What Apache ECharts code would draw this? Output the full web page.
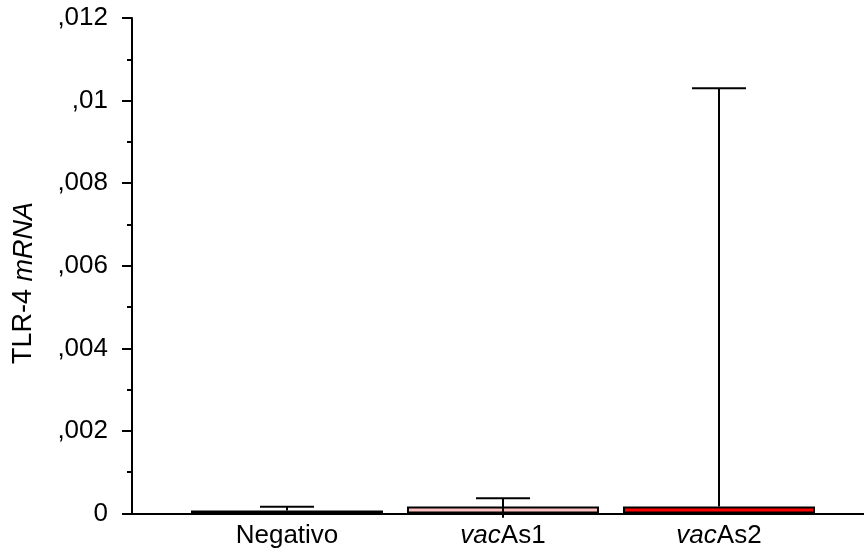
<!DOCTYPE html>
<html><head><meta charset="utf-8">
<script src="https://cdn.jsdelivr.net/npm/echarts@6/dist/echarts.min.js"></script>
<style>html,body{margin:0;padding:0;background:#fff}#c{width:864px;height:560px}</style>
</head><body><div id="c"></div>
<script>
const categories = ['Negativo', 'vacAs1', 'vacAs2'];
const categoryLabels = ['Negativo', '{i|vac}As1', '{i|vac}As2'];
const meanValues = [0.00007, 0.00017, 0.00017];
const errHigh = [0.000165, 0.00037, 0.0103];
const errLow = [null, -0.0001, null];
const barColors = ['#000000', '#FFC0C0', '#FF0000'];
const yTickLabels = ['0', ',002', ',004', ',006', ',008', ',01', ',012'];
const yMin = 0, yMax = 0.012, yStep = 0.002;

const FONT = 'Liberation Sans, Arial, sans-serif';
const chart = echarts.init(document.getElementById('c'), null, {renderer: 'canvas'});
const gTop = 18, gBottom = 46.5;
chart.setOption({
  animation: false,
  backgroundColor: '#fff',
  grid: [
    {left: 132, right: 0, top: gTop, bottom: gBottom},
    {left: 179, width: 648, top: gTop, bottom: gBottom}
  ],
  xAxis: [
    {gridIndex: 0, type: 'value', min: 0, max: 1,
     axisLine: {show: true, onZero: false, lineStyle: {color: '#000', width: 2}},
     axisTick: {show: false}, axisLabel: {show: false}, splitLine: {show: false}},
    {gridIndex: 1, type: 'category', data: categories,
     axisLine: {show: false}, axisTick: {show: false}, splitLine: {show: false},
     axisLabel: {
       margin: 9, color: '#000', fontFamily: FONT, fontSize: 26,
       formatter: (v, i) => categoryLabels[i],
       rich: {i: {fontStyle: 'italic', fontFamily: FONT, fontSize: 26, color: '#000'}}
     }}
  ],
  yAxis: [
    {gridIndex: 0, type: 'value', min: yMin, max: yMax, interval: yStep,
     axisLine: {show: true, lineStyle: {color: '#000', width: 2}},
     axisTick: {show: true, inside: false, length: 10, lineStyle: {color: '#000', width: 2}},
     minorTick: {show: true, splitNumber: 2, length: 5, lineStyle: {color: '#000', width: 2}},
     splitLine: {show: false},
     axisLabel: {margin: 24, color: '#000', fontFamily: FONT, fontSize: 26, padding: [6, 0, 0, 0],
       formatter: v => yTickLabels[Math.round((v - yMin) / yStep)]}},
    {gridIndex: 1, type: 'value', min: yMin, max: yMax, interval: yStep, show: false}
  ],
  graphic: [{
    type: 'text', x: 24, y: 283, rotation: Math.PI / 2,
    style: {
      text: 'TLR-4 {i|mRNA}', align: 'center', verticalAlign: 'middle',
      fill: '#000', font: '27px ' + FONT,
      rich: {i: {fontStyle: 'italic', fontSize: 27, fontFamily: FONT, fill: '#000'}}
    }
  }],
  series: [
    {type: 'bar', xAxisIndex: 1, yAxisIndex: 1, barWidth: 192,
     data: meanValues.map((v, i) => ({value: v, itemStyle: {color: barColors[i]}})),
     itemStyle: {borderColor: '#000', borderWidth: 2}, z: 2},
    {type: 'custom', xAxisIndex: 1, yAxisIndex: 1, z: 3,
     data: categories.map((c, i) => [i, errLow[i] == null ? meanValues[i] : errLow[i], errHigh[i]]),
     renderItem: (params, api) => {
       const lo = api.coord([api.value(0), api.value(1)]);
       const hi = api.coord([api.value(0), api.value(2)]);
       const hw = 27;
       const st = {stroke: '#000', lineWidth: 2};
       return {type: 'group', children: [
         {type: 'line', shape: {x1: hi[0], y1: hi[1], x2: lo[0], y2: lo[1]}, style: st},
         {type: 'line', shape: {x1: hi[0] - hw, y1: hi[1], x2: hi[0] + hw, y2: hi[1]}, style: st}
       ]};
     }}
  ]
});
</script></body></html>
